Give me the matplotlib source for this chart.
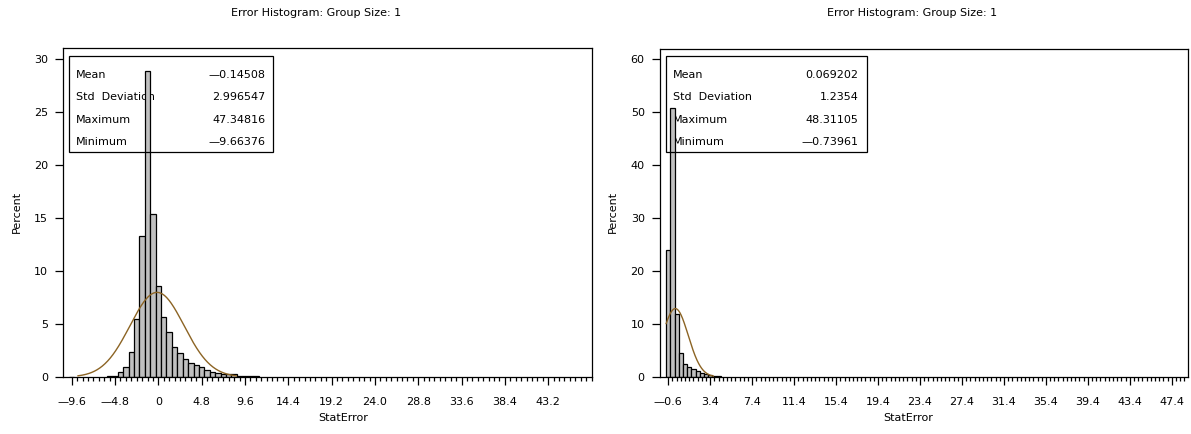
import numpy as np
import matplotlib
matplotlib.use("Agg")
import matplotlib.pyplot as plt
from matplotlib.patches import Rectangle

plt.rcParams['font.family'] = ['DejaVu Sans']

W, H = 1191, 434

# ---- data ----
title = "Error Histogram: Group Size: 1"
stat_names = ["Mean", "Std  Deviation", "Maximum", "Minimum"]

# left panel (bin width 0.6)
left_centers = [-9.6, -5.4, -4.8, -4.2, -3.6, -3.0, -2.4, -1.8, -1.2, -0.6,
                0.0, 0.6, 1.2, 1.8, 2.4, 3.0, 3.6, 4.2, 4.8, 5.4,
                6.0, 6.6, 7.2, 7.8, 8.4, 9.0, 9.6, 10.2, 10.8]
left_pct = [0.03, 0.12, 0.12, 0.47, 0.95, 2.4, 5.5, 13.3, 28.9, 15.4,
            8.55, 5.65, 4.2, 2.85, 2.25, 1.7, 1.35, 1.1, 0.93, 0.62,
            0.47, 0.37, 0.3, 0.25, 0.25, 0.12, 0.12, 0.12, 0.1]
left_stats = [-0.14508, 2.996547, 47.34816, -9.66376]
left_stat_txt = ["\u20140.14508", "2.996547", "47.34816", "\u20149.66376"]
left_ticks = [-9.6, -4.8, 0, 4.8, 9.6, 14.4, 19.2, 24.0, 28.8, 33.6, 38.4, 43.2]
left_ticklabels = ["\u20149.6", "\u20144.8", "0", "4.8", "9.6", "14.4", "19.2",
                   "24.0", "28.8", "33.6", "38.4", "43.2"]
left_yticks = [0, 5, 10, 15, 20, 25, 30]

# right panel (bin width 0.4)
right_centers = [-0.6, -0.2, 0.2, 0.6, 1.0, 1.4, 1.8, 2.2, 2.6, 3.0, 3.4, 3.8, 4.2]
right_pct = [23.9, 50.8, 11.8, 4.5, 2.5, 1.9, 1.45, 1.13, 0.82, 0.63, 0.44, 0.25, 0.2]
right_stats = [0.069202, 1.2354, 48.31105, -0.73961]
right_stat_txt = ["0.069202", "1.2354", "48.31105", "\u20140.73961"]
right_ticks = [-0.6, 3.4, 7.4, 11.4, 15.4, 19.4, 23.4, 27.4, 31.4, 35.4, 39.4, 43.4, 47.4]
right_ticklabels = ["\u20140.6", "3.4", "7.4", "11.4", "15.4", "19.4", "23.4",
                    "27.4", "31.4", "35.4", "39.4", "43.4", "47.4"]
right_yticks = [0, 10, 20, 30, 40, 50, 60]

BAR_COLOR = "#c0c0c0"
CURVE_COLOR = "#8c6424"
FS = 8


def fx(x):
    return x / W


def fy(y):
    return 1 - y / H


fig = plt.figure(figsize=(W / 100, H / 100), dpi=100)


def panel(rect, centers, pct, bw, stats, stat_txt, ticks, ticklabels, yticks,
          xlim, ylim, curve_lo, box_px, title_x, ylabel_x, xlabel_x):
    ax = fig.add_axes(rect)
    ax.bar(centers, pct, width=bw, color=BAR_COLOR, edgecolor="black",
           linewidth=0.9, zorder=2)

    # fitted normal curve from the mean / std shown in the inset
    mu, sd = stats[0], stats[1]
    xs = np.linspace(curve_lo, mu + 2.93 * sd, 300)
    ys = bw * 100 / (sd * np.sqrt(2 * np.pi)) * np.exp(-0.5 * ((xs - mu) / sd) ** 2)
    ax.plot(xs, ys, color=CURVE_COLOR, linewidth=1.0, zorder=3)

    ax.set_xlim(*xlim)
    ax.set_ylim(*ylim)
    ax.set_xticks(ticks)
    ax.set_xticklabels(ticklabels)
    minor = np.arange(ticks[0], xlim[1], bw)
    ax.set_xticks(minor, minor=True)
    ax.set_yticks(yticks)
    ax.tick_params(axis="x", which="major", length=5.5, width=0.9, pad=9, labelsize=FS)
    ax.tick_params(axis="x", which="minor", length=2.8, width=0.9)
    ax.tick_params(axis="y", length=6, width=0.9, pad=5, labelsize=FS)
    for s in ax.spines.values():
        s.set_linewidth(0.9)

    # inset statistics box
    bx0, by0, bx1, by1 = box_px
    ax.add_patch(Rectangle((fx(bx0), fy(by1)), fx(bx1 - bx0), (by1 - by0) / H,
                           transform=fig.transFigure, fill=False,
                           edgecolor="black", linewidth=0.9, zorder=4, clip_on=False))
    rows_y = [74.5, 97.5, 120, 142]
    for name, val, yy in zip(stat_names, stat_txt, rows_y):
        ax.text(fx(bx0 + 7), fy(yy), name, transform=fig.transFigure,
                ha="left", va="center", fontsize=FS, zorder=1)
        ax.text(fx(bx1 - 8), fy(yy), val, transform=fig.transFigure,
                ha="right", va="center", fontsize=FS, zorder=1)

    fig.text(fx(title_x), fy(13), title, ha="center", va="center", fontsize=FS)
    fig.text(fx(ylabel_x), fy(212), "Percent", rotation=90,
             ha="center", va="center", fontsize=FS)
    fig.text(fx(xlabel_x), fy(418), "StatError", ha="center", va="center", fontsize=FS)
    return ax


panel([fx(63.3), fy(377), fx(591.7 - 63.3), (377 - 48) / H],
      left_centers, left_pct, 0.6, left_stats, left_stat_txt,
      left_ticks, left_ticklabels, left_yticks,
      (-10.53, 48.02), (0, 31.05), -8.9, (69.3, 55.7, 273.3, 152.3),
      316, 17, 343)

panel([fx(660), fy(377), fx(1187.5 - 660), (377 - 49) / H],
      right_centers, right_pct, 0.4, right_stats, right_stat_txt,
      right_ticks, right_ticklabels, right_yticks,
      (-1.39, 48.9), (0, 61.9), -0.8, (665.7, 55.7, 866.7, 152.3),
      912, 613, 908)

fig.savefig("out.png", dpi=100)
